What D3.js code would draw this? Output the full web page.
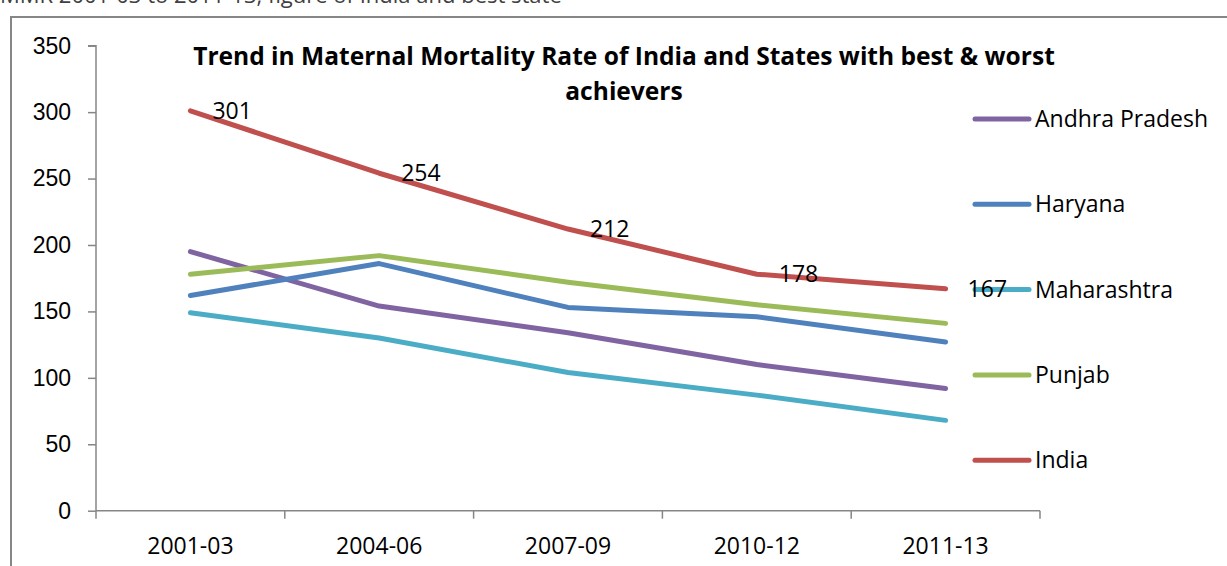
<!DOCTYPE html>
<html>
<head>
<meta charset="utf-8">
<script src="https://cdn.jsdelivr.net/npm/d3@7"></script>
<style>
  body { margin: 0; background: #fff; }
  svg { display: block; font-family: "Open Sans", Lato, sans-serif; }
</style>
</head>
<body>
<div id="chart"></div>
<script>
// periods on the x axis
var periods = ["2001-03", "2004-06", "2007-09", "2010-12", "2011-13"];

// MMR values per series
var andhra = [195, 154, 134, 110, 92];
var haryana = [162, 186, 153, 146, 127];
var maharashtra = [149, 130, 104, 87, 68];
var punjab = [178, 192, 172, 155, 141];
var india = [301, 254, 212, 178, 167];

var series_names = ["Andhra Pradesh", "Haryana", "Maharashtra", "Punjab", "India"];
var series_values = [andhra, haryana, maharashtra, punjab, india];
var series_colors = ["#8064A2", "#4F81BD", "#4BACC6", "#9BBB59", "#C0504D"];

var y_ticks = [0, 50, 100, 150, 200, 250, 300, 350];

var width = 1227, height = 566;
var font_size = 23;

var svg = d3.select("#chart").append("svg")
    .attr("width", width)
    .attr("height", height);

// cut-off caption line from the page above the chart
svg.append("text")
    .attr("x", 0)
    .attr("y", 3)
    .attr("font-size", 22)
    .attr("fill", "#404040")
    .text("MMR 2001-03 to 2011-13, figure of India and best state");

// outer chart border
svg.append("rect")
    .attr("x", 11).attr("y", 17)
    .attr("width", 1400).attr("height", 700)
    .attr("fill", "none")
    .attr("stroke", "#868686")
    .attr("stroke-width", 2);

var x = d3.scaleBand()
    .domain(periods)
    .range([96, 1040]);

var y = d3.scaleLinear()
    .domain([0, 350])
    .range([510.7, 45.7]);

// y axis
var y_axis = svg.append("g")
    .attr("transform", "translate(96,0)")
    .call(d3.axisLeft(y).tickValues(y_ticks).tickSize(8).tickPadding(17));
y_axis.selectAll("path, line").attr("stroke", "#868686").attr("stroke-width", 1.5);
y_axis.select(".domain").attr("d", "M-8," + y(350) + "H0V" + y(0));
y_axis.selectAll("text").attr("font-size", font_size).attr("font-family", null).attr("fill", "#000");

// x axis, ticks between the categories
var x_axis = svg.append("g")
    .attr("transform", "translate(0," + y(0) + ")");
x_axis.append("line")
    .attr("x1", 96).attr("x2", 1040)
    .attr("stroke", "#868686").attr("stroke-width", 1.5);
var bounds = periods.map(function(p) { return x(p); }).concat([x.range()[1]]);
x_axis.selectAll(".tick").data(bounds).enter().append("line")
    .attr("x1", function(d) { return d; })
    .attr("x2", function(d) { return d; })
    .attr("y1", 0).attr("y2", 8)
    .attr("stroke", "#868686").attr("stroke-width", 1.5);
x_axis.selectAll(".lbl").data(periods).enter().append("text")
    .attr("x", function(d) { return x(d) + x.bandwidth() / 2; })
    .attr("y", 43)
    .attr("text-anchor", "middle")
    .attr("font-size", font_size)
    .text(function(d) { return d; });

// lines
var line = d3.line()
    .x(function(d, i) { return x(periods[i]) + x.bandwidth() / 2; })
    .y(function(d) { return y(d); });

svg.append("g").selectAll("path")
    .data(series_values)
    .enter().append("path")
    .attr("d", line)
    .attr("fill", "none")
    .attr("stroke", function(d, i) { return series_colors[i]; })
    .attr("stroke-width", 5)
    .attr("stroke-linecap", "round")
    .attr("stroke-linejoin", "round");

// title
var title = svg.append("g");
var t1 = title.append("text")
    .attr("x", 624).attr("y", 65)
    .attr("text-anchor", "middle")
    .attr("font-weight", "bold")
    .attr("font-size", 24)
    .text("Trend in Maternal Mortality Rate of India and States with best & worst");
// scale the title font so its first line fits the reference width
var fs = 24 * 862 / t1.node().getComputedTextLength();
t1.attr("font-size", fs);
title.append("text")
    .attr("x", 624).attr("y", 100)
    .attr("text-anchor", "middle")
    .attr("font-weight", "bold")
    .attr("font-size", fs)
    .text("achievers");

// legend
var legend = svg.append("g").selectAll("g")
    .data(series_names)
    .enter().append("g")
    .attr("transform", function(d, i) { return "translate(975," + (119 + i * 85.3) + ")"; });
legend.append("line")
    .attr("x1", 0).attr("x2", 54)
    .attr("stroke", function(d, i) { return series_colors[i]; })
    .attr("stroke-width", 5)
    .attr("stroke-linecap", "round");
legend.append("text")
    .attr("x", 60)
    .attr("dy", "0.35em")
    .attr("font-size", font_size)
    .text(function(d) { return d; });

// data labels for India
svg.append("g").selectAll("text")
    .data(india)
    .enter().append("text")
    .attr("x", function(d, i) { return x(periods[i]) + x.bandwidth() / 2 + 22; })
    .attr("y", function(d) { return y(d); })
    .attr("dy", "0.35em")
    .attr("font-size", font_size)
    .text(function(d) { return d; });
</script>
</body>
</html>
